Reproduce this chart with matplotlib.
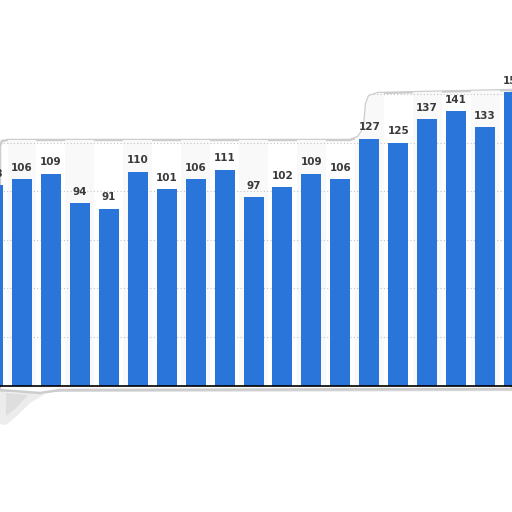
import matplotlib.pyplot as plt
from matplotlib.patches import Polygon
import numpy as np

# values (first and last bar are cut by the image edge)
values = [103, 106, 109, 94, 91, 110, 101, 106, 111, 97, 102, 109, 106,
          127, 125, 137, 141, 133, 151]
labels = [str(v) for v in values]
grid_levels = [25, 50, 75, 100, 125, 150]

bar_color = '#2a75d9'
label_color = '#3a3a3a'

fig = plt.figure(figsize=(5.12, 5.12), dpi=100)
fig.patch.set_facecolor('white')

# background layer in pixel coordinates: the torn paper strip
bg = fig.add_axes([0, 0, 1, 1], zorder=0)
bg.set_xlim(0, 512)
bg.set_ylim(512, 0)
bg.axis('off')

strip_pts = [(0, 146), (2, 141), (8, 140), (350, 140), (358, 137), (364, 128),
             (366, 104), (369, 96), (378, 93), (512, 90),
             (512, 389), (60, 390), (40, 393), (0, 390)]
strip = Polygon(strip_pts, closed=True, facecolor='white', edgecolor='#cdcdcd',
                lw=1.8, zorder=1)
bg.add_patch(strip)
# shadow under the strip and the curled corner at lower left
bg.plot([0, 512], [390, 389], color='#dcdcdc', lw=3, solid_capstyle='butt', zorder=0)
curl = Polygon([(0, 392), (45, 394), (30, 403), (18, 415), (6, 425), (0, 424)],
               closed=True, facecolor='#ececec', edgecolor='none', zorder=0)
bg.add_patch(curl)
bg.add_patch(Polygon([(6, 393), (28, 395), (16, 408), (6, 416)], closed=True,
                     facecolor='#dedede', edgecolor='none', zorder=0))

# main chart axes
ax = fig.add_axes([0, 126.5 / 512, 1, 311 / 512], zorder=1)
ax.patch.set_alpha(0)
x = np.arange(len(values))
ax.set_xlim(6.94 / 28.94, (512 + 6.94) / 28.94)
ax.set_ylim(0, 160)

# alternating column shading and dotted grid, kept inside the strip
for i in x:
    if i % 2 == 1:
        band = ax.axvspan(i - 0.5, i + 0.5, color='#f9f9f9', zorder=0, lw=0)
        band.set_clip_path(strip)
for g in grid_levels:
    ln = ax.axhline(g, color='#c4c4c4', lw=0.8, ls=(0, (1, 2)), zorder=1)
    ln.set_clip_path(strip)

bars = ax.bar(x, values, width=0.69, color=bar_color, zorder=2)
for xi, v, lab in zip(x, values, labels):
    ax.annotate(lab, (xi, v), xytext=(0, 4.5), textcoords='offset points',
                ha='center', va='bottom', fontsize=7.5, fontweight='bold',
                color=label_color, zorder=3, annotation_clip=False)

for s in ['top', 'right', 'left']:
    ax.spines[s].set_visible(False)
ax.spines['bottom'].set_color('black')
ax.spines['bottom'].set_linewidth(1.2)
ax.spines['bottom'].set_zorder(4)
ax.set_xticks([])
ax.set_yticks([])

fig.savefig('out.png', dpi=100, facecolor='white')
